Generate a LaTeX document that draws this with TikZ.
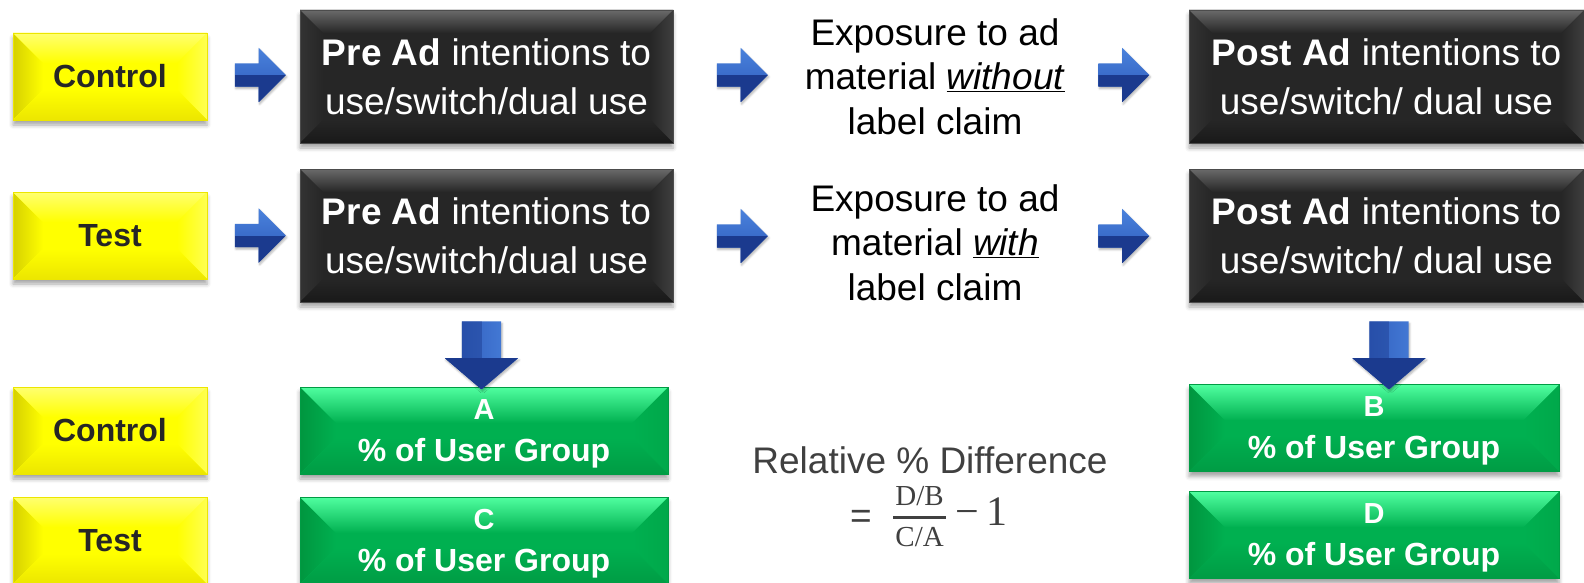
\RequirePackage{fix-cm}
\documentclass[tikz,border=0pt]{standalone}
\usepackage[no-math]{fontspec}
\setmainfont{Liberation Sans}
\newfontfamily\serfam{Liberation Serif}
\usetikzlibrary{shapes.arrows,shadows.blur,calc}
\definecolor{yel}{HTML}{FFFF00}
\definecolor{yelT}{HTML}{FFFF70}
\definecolor{yelL}{HTML}{D6D000}
\definecolor{yelR}{HTML}{FFFF50}
\definecolor{yelB}{HTML}{ECE600}
\definecolor{ytext}{HTML}{262626}
\definecolor{blk}{HTML}{262626}
\definecolor{blkT}{HTML}{6A6A6A}
\definecolor{blkL}{HTML}{333333}
\definecolor{blkR}{HTML}{3E3E3E}
\definecolor{blkB}{HTML}{191919}
\definecolor{grn}{HTML}{00B050}
\definecolor{grnT}{HTML}{50FFA0}
\definecolor{grnL}{HTML}{00963F}
\definecolor{grnR}{HTML}{00A84A}
\definecolor{grnB}{HTML}{009C44}
\definecolor{arrL}{HTML}{4A82DC}
\definecolor{arrM}{HTML}{2B57B8}
\definecolor{arrD}{HTML}{1B3A8E}
\definecolor{relgray}{HTML}{404040}

% #1 bevel, #2 base, #3 top edge, #4 left edge, #5 right edge, #6 bottom edge
\newcommand\bevelfacets[6]{%
  \coordinate (q1) at (path picture bounding box.north west);
  \coordinate (q2) at (path picture bounding box.north east);
  \coordinate (q3) at (path picture bounding box.south east);
  \coordinate (q4) at (path picture bounding box.south west);
  \fill[left color=#4,right color=#2] (q1) -- ($(q1)+(#1,#1)$) -- ($(q4)+(#1,-#1)$) -- (q4) -- cycle;
  \fill[left color=#2,right color=#5] (q2) -- ($(q2)+(-#1,#1)$) -- ($(q3)+(-#1,-#1)$) -- (q3) -- cycle;
  \fill[top color=#2,bottom color=#6] (q4) -- ($(q4)+(#1,-#1)$) -- ($(q3)+(-#1,-#1)$) -- (q3) -- cycle;
  \fill[top color=#3,bottom color=#2] (q1) -- ($(q1)+(#1,#1)$) -- ($(q2)+(-#1,#1)$) -- (q2) -- cycle;
}

\tikzset{
  boxbase/.style={rectangle, inner sep=0pt, align=center,
    blur shadow={shadow xshift=0pt, shadow yshift=-5pt, shadow blur radius=4pt, shadow opacity=35}},
  ybox/.style={boxbase, fill=yel, draw=yelB, line width=0.6pt, minimum width=194pt, minimum height=87pt,
    text=ytext, font=\fontsize{32}{37}\selectfont\bfseries,
    path picture={\bevelfacets{30}{yel}{yelT}{yelL}{yelR}{yelB}}},
  kbox/.style={boxbase, fill=blk, draw=black!70, line width=0.6pt, minimum height=133pt,
    text=white, font=\fontsize{37}{49}\selectfont,
    path picture={\bevelfacets{23}{blk}{blkT}{blkL}{blkR}{blkB}}},
  gbox/.style={boxbase, fill=grn, draw=grnB, line width=0.6pt, minimum height=87pt,
    text=white, text depth=0pt, font=\fontsize{32}{42}\selectfont\bfseries,
    path picture={\bevelfacets{36}{grn}{grnT}{grnL}{grnR}{grnB}}},
  plaintext/.style={inner sep=0pt, align=center, text=black, font=\fontsize{37}{44.5}\selectfont},
  reltext/.style={inner sep=0pt, text=relgray, font=\fontsize{37}{40}\selectfont},
  blockarrow/.style={single arrow, single arrow head indent=0pt,
    blur shadow={shadow xshift=1pt, shadow yshift=-2pt, shadow blur radius=2pt, shadow opacity=30}},
  rarrow/.style={blockarrow, single arrow head extend=15.5pt, single arrow tip angle=90,
    minimum height=51pt, inner xsep=0pt, inner ysep=11.5pt, top color=arrL, bottom color=arrM,
    path picture={\fill[arrD] (path picture bounding box.west) rectangle (path picture bounding box.south east);}},
  darrow/.style={blockarrow, shape border rotate=270, single arrow head extend=17pt, single arrow tip angle=99,
    minimum height=68pt, inner xsep=19.5pt, inner ysep=0pt, left color=arrM, right color=arrL,
    path picture={\fill[arrD] ($(path picture bounding box.south west)+(0,-31)$) rectangle (path picture bounding box.south east);
      \fill[arrD,opacity=0.45] (path picture bounding box.north west) rectangle (path picture bounding box.south);}},
}

\begin{document}
\begin{tikzpicture}[x=1pt,y=-1pt]
\useasboundingbox (0,0) rectangle (1584,583);

% left labels
\node[ybox] (yc1) at (110,76.5) {Control};
\node[ybox] (yt1) at (110,235.5) {Test};
\node[ybox] (yc2) at (110,430.5) {Control};
\node[ybox] (yt2) at (110,540.5) {Test};

% black boxes
\node[kbox, minimum width=373pt] (pre1) at (486.5,76.5) {\textbf{Pre Ad} intentions to\\use/switch/dual use};
\node[kbox, minimum width=373pt] (pre2) at (486.5,235.5) {\textbf{Pre Ad} intentions to\\use/switch/dual use};
\node[kbox, minimum width=395pt] (post1) at (1386.5,76.5) {\textbf{Post Ad} intentions to\\use/switch/ dual use};
\node[kbox, minimum width=395pt] (post2) at (1386.5,235.5) {\textbf{Post Ad} intentions to\\use/switch/ dual use};

% exposure texts
\node[plaintext] (exp1) at (935,76.5) {Exposure to ad\\material \underline{\textit{without}}\\label claim};
\node[plaintext] (exp2) at (935,242.5) {Exposure to ad\\material \underline{\textit{with}}\\label claim};

% green boxes
\node[gbox, minimum width=368pt] (ga) at (484,430.5) {{\fontsize{29}{42}\selectfont A}\\\% of User Group};
\node[gbox, minimum width=368pt] (gc) at (484,540.5) {{\fontsize{29}{42}\selectfont C}\\\% of User Group};
\node[gbox, minimum width=370pt] (gb) at (1374,428) {{\fontsize{29}{42}\selectfont B}\\\% of User Group};
\node[gbox, minimum width=370pt] (gd) at (1374,535) {{\fontsize{29}{42}\selectfont D}\\\% of User Group};

% formula
\node[reltext] (rel) at (930,460) {Relative \% Difference};
\node[reltext] (eq) at (861,519) {=};
\node[reltext, anchor=west] (frac) at (892,516.5)
  {{\fontsize{30}{30}\selectfont$\displaystyle{\hbox{\serfam\fontsize{29}{29}\selectfont\kern2pt D/B\kern2pt}\above 2.8pt\hbox{\serfam\fontsize{29}{29}\selectfont\kern2pt C/A\kern2pt}}$}\hspace{9pt}{\serfam\fontsize{42}{42}\selectfont −\hspace{7pt}1}};

% block arrows
\node[rarrow] (a1) at (254.5,75) {};
\node[rarrow] (a2) at (736.5,75) {};
\node[rarrow] (a3) at (1118,75) {};
\node[rarrow] (a4) at (254.5,235.5) {};
\node[rarrow] (a5) at (736.5,236) {};
\node[rarrow] (a6) at (1118,236) {};
\node[darrow] (d1) at (481.5,347) {};
\node[darrow] (d2) at (1389,347) {};
\end{tikzpicture}
\end{document}
